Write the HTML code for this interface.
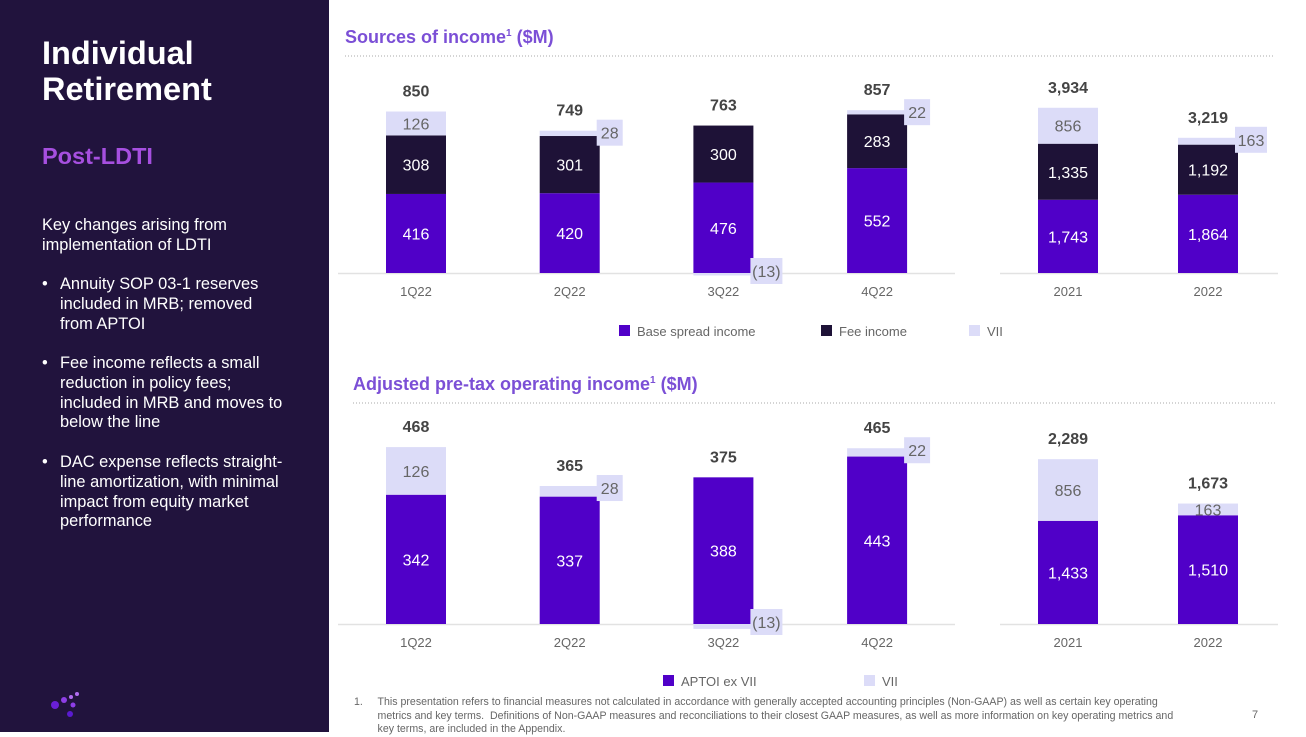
<!DOCTYPE html>
<html><head><meta charset="utf-8"><style>
body{margin:0;width:1306px;height:732px;overflow:hidden;background:#fff;font-family:"Liberation Sans",sans-serif;position:relative}
#left{position:absolute;left:0;top:0;width:329px;height:732px;background:#21133d}
.t{position:absolute;white-space:nowrap}
.body{color:#fff;font-size:16.4px;line-height:19.8px}
.bul{position:absolute;left:42px;color:#fff;font-size:16.4px;line-height:19.8px}
.bul span{position:absolute;left:18px;white-space:nowrap}
svg{position:absolute;left:0;top:0}
</style></head><body>
<div id="left">
<div class="t" style="left:42px;top:35px;color:#fff;font-size:32.5px;font-weight:bold;line-height:36px">Individual<br>Retirement</div>
<div class="t" style="left:42px;top:143px;color:#a64fe0;font-size:23.5px;font-weight:bold">Post-LDTI</div>
<div class="t body" style="left:42px;top:216px">Key changes arising from<br>implementation of LDTI</div>
<div class="bul" style="top:275px">•<span>Annuity SOP 03-1 reserves<br>included in MRB; removed<br>from APTOI</span></div>
<div class="bul" style="top:354px">•<span>Fee income reflects a small<br>reduction in policy fees;<br>included in MRB and moves to<br>below the line</span></div>
<div class="bul" style="top:453px">•<span>DAC expense reflects straight-<br>line amortization, with minimal<br>impact from equity market<br>performance</span></div>
<svg width="100" height="732" style="left:0;top:0">
<circle cx="55" cy="705" r="4" fill="#6a1fd6"/><circle cx="64" cy="700" r="3" fill="#8e3ee6"/><circle cx="71" cy="697" r="2" fill="#b16cf0"/><circle cx="77" cy="694" r="2" fill="#b16cf0"/><circle cx="73" cy="705" r="2.5" fill="#8e3ee6"/><circle cx="70" cy="714" r="3" fill="#5a1ad0"/>
</svg>
</div>
<div class="t" style="left:345px;top:27px;color:#7b4fd6;font-size:18px;font-weight:bold">Sources of income<sup style="font-size:10px">1</sup> ($M)</div>
<div class="t" style="left:353px;top:374px;color:#7b4fd6;font-size:18px;font-weight:bold">Adjusted pre-tax operating income<sup style="font-size:10px">1</sup> ($M)</div>
<div class="t" style="left:354px;top:696px;color:#666;font-size:10.6px;line-height:13.5px">1.&nbsp;&nbsp;&nbsp;&nbsp;&nbsp;This presentation refers to financial measures not calculated in accordance with generally accepted accounting principles (Non-GAAP) as well as certain key operating<br>&nbsp;&nbsp;&nbsp;&nbsp;&nbsp;&nbsp;&nbsp;&nbsp;metrics and key terms.&nbsp; Definitions of Non-GAAP measures and reconciliations to their closest GAAP measures, as well as more information on key operating metrics and<br>&nbsp;&nbsp;&nbsp;&nbsp;&nbsp;&nbsp;&nbsp;&nbsp;key terms, are included in the Appendix.</div>
<div class="t" style="left:1252px;top:709px;color:#666;font-size:11px">7</div>
<svg id="chart" width="1306" height="732"></svg>
<script>
const qCats=["1Q22","2Q22","3Q22","4Q22"];
const yCats=["2021","2022"];
const srcBaseQ=[416,420,476,552];
const srcFeeQ=[308,301,300,283];
const srcVIIQ=[126,28,-13,22];
const srcTotQ=["850","749","763","857"];
const srcBaseY=[1743,1864];
const srcFeeY=[1335,1192];
const srcVIIY=[856,163];
const srcTotY=["3,934","3,219"];
const apBaseQ=[342,337,388,443];
const apVIIQ=[126,28,-13,22];
const apTotQ=["468","365","375","465"];
const apBaseY=[1433,1510];
const apVIIY=[856,163];
const apTotY=["2,289","1,673"];

const NS="http://www.w3.org/2000/svg";
const svg=document.getElementById('chart');
const C={base:"#5000c8",fee:"#1e1237",vii:"#dcdcf8"};
function mk(tag,at,parent){const e=document.createElementNS(NS,tag);for(const k in at)e.setAttribute(k,at[k]);(parent||svg).appendChild(e);return e;}
function txt(x,y,s,at){const e=mk('text',Object.assign({x:x,y:y,'text-anchor':'middle','font-family':'Liberation Sans, sans-serif'},at));e.textContent=s;return e;}
function fmt(v){const a=Math.abs(v).toLocaleString('en-US');return v<0?'('+a+')':a;}

function drawStack(name,cats,series,colors,totals,x0,step,baseY,scale,callout,axisX1,axisX2){
  mk('line',{x1:axisX1,x2:axisX2,y1:baseY+0.5,y2:baseY+0.5,stroke:'#e2e2e2','stroke-width':1.5});
  const w=60;
  cats.forEach((c,i)=>{
    const cx=x0+i*step, left=cx-w/2;
    let top=baseY;
    series.forEach((s,si)=>{
      const v=s[i], h=Math.abs(v)*scale;
      let y;
      if(v>=0){y=top-h;top=y;}else{y=baseY;}
      const r=mk('rect',{x:left,y:y,width:w,height:Math.max(h,0.5),fill:colors[si]});
      
      
      const light=colors[si]===C.vii;
      if(h>=20){
        const t=txt(cx,y+h/2+6,fmt(v),{'font-size':16,fill:light?'#666':'#fff'});
        
        
      }else if(callout){
        const bw=String(fmt(v)).length>2?32:26;
        const cy=v>=0?y+2:baseY-2;
        const bx=left+w-3;
        mk('rect',{x:bx,y:cy-13,width:bw,height:26,fill:C.vii});
        const t=txt(bx+bw/2,cy+6,fmt(v),{'font-size':16,fill:'#666'});
        
        
      }else{
        const t=txt(cx,y+h/2+6,fmt(v),{'font-size':16,fill:'#666'});
        
        
      }
    });
    const tt=txt(cx,top-15,totals[i],{'font-size':16,'font-weight':'bold',fill:'#444'});
    
    
    const xl=txt(cx,baseY+23,c,{'font-size':13,fill:'#666'});
    
    
  });
}
mk('line',{x1:345,x2:1275,y1:56,y2:56,stroke:'#aaa','stroke-dasharray':'1 2'});
mk('line',{x1:353,x2:1275,y1:403,y2:403,stroke:'#aaa','stroke-dasharray':'1 2'});

drawStack('sources-q',qCats,[srcBaseQ,srcFeeQ,srcVIIQ],[C.base,C.fee,C.vii],srcTotQ,416,153.7,273,0.19,true,338,955);
drawStack('sources-y',yCats,[srcBaseY,srcFeeY,srcVIIY],[C.base,C.fee,C.vii],srcTotY,1068,140,273,0.042,true,1000,1278);
drawStack('aptoi-q',qCats,[apBaseQ,apVIIQ],[C.base,C.vii],apTotQ,416,153.7,624,0.378,true,338,955);
drawStack('aptoi-y',yCats,[apBaseY,apVIIY],[C.base,C.vii],apTotY,1068,140,624,0.072,false,1000,1278);

function legend(items,y){
  items.forEach(it=>{
    mk('rect',{x:it[0],y:y-6,width:11,height:11,fill:it[2]});
    const t=mk('text',{x:it[0]+18,y:y+5,'font-size':13,fill:'#666','font-family':'Liberation Sans, sans-serif'});
    t.textContent=it[1];
    
    
  });
}
legend([[619,'Base spread income',C.base],[821,'Fee income',C.fee],[969,'VII',C.vii]],331);
legend([[663,'APTOI ex VII',C.base],[864,'VII',C.vii]],681);
</script>
</body></html>
